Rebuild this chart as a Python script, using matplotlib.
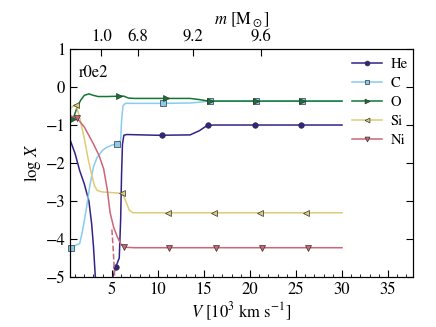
import matplotlib
matplotlib.use("Agg")
import matplotlib.pyplot as plt
from matplotlib.ticker import MultipleLocator

plt.rcParams['font.family'] = ['STIXGeneral', 'DejaVu Serif']
plt.rcParams['mathtext.fontset'] = 'stix'

# velocity [10^3 km/s] and log mass fraction
he_v1 = [0.47, 1.0, 1.5, 2.0, 2.5, 2.8, 3.0, 3.2]
he_x1 = [-1.4, -1.75, -2.2, -2.55, -3.0, -3.6, -4.2, -5.0]
he_v2 = [5.1, 5.4, 5.8, 5.95, 6.05, 6.15, 6.3, 6.6, 10.0, 13.5, 14.5, 15.3, 16.0, 30.0]
he_x2 = [-5.0, -4.75, -4.5, -3.5, -2.3, -1.5, -1.27, -1.25, -1.27, -1.26, -1.15, -1.02, -1.0, -1.0]
he_mv = [5.4, 10.4, 15.4, 20.5, 25.5]
he_mx = [-4.75, -1.27, -1.0, -1.0, -1.0]

c_v = [0.47, 1.0, 1.5, 1.8, 2.2, 2.6, 3.0, 3.4, 4.0, 4.5, 5.0, 5.6, 5.95, 6.05, 6.2, 6.45, 10.0, 13.5, 14.5, 15.5, 30.0]
c_x = [-4.25, -4.17, -4.12, -3.8, -3.24, -2.6, -2.1, -1.85, -1.66, -1.58, -1.53, -1.49, -1.4, -0.9, -0.5, -0.43, -0.43, -0.42, -0.4, -0.37, -0.37]
c_mv = [0.55, 5.6, 10.6, 15.65, 20.7, 25.7]
c_mx = [-4.25, -1.49, -0.43, -0.37, -0.37, -0.37]

o_v = [0.47, 0.8, 1.2, 1.6, 2.0, 2.5, 3.0, 3.5, 4.5, 5.8, 6.3, 6.8, 7.5, 10.0, 13.5, 14.5, 15.5, 30.0]
o_x = [-0.85, -0.83, -0.55, -0.35, -0.22, -0.18, -0.22, -0.25, -0.25, -0.24, -0.24, -0.29, -0.3, -0.3, -0.3, -0.33, -0.37, -0.37]
o_mv = [0.75, 5.8, 10.85, 15.7, 20.7, 25.7]
o_mx = [-0.84, -0.24, -0.3, -0.37, -0.37, -0.37]

si_v = [0.47, 0.8, 1.1, 1.5, 2.0, 2.45, 2.8, 3.1, 3.4, 3.9, 5.0, 6.15, 6.5, 6.9, 7.3, 10.0, 30.0]
si_x = [-0.57, -0.5, -0.46, -0.8, -1.35, -1.93, -2.3, -2.6, -2.72, -2.76, -2.78, -2.8, -3.0, -3.25, -3.31, -3.31, -3.31]
si_mv = [1.05, 6.15, 11.05, 16.1, 21.1, 26.1]
si_mx = [-0.46, -2.8, -3.31, -3.31, -3.31, -3.31]

ni_v = [0.47, 1.2, 2.0, 3.0, 3.6, 4.1, 4.5, 4.8, 5.2, 5.6, 6.0, 6.5, 7.5, 30.0]
ni_x = [-0.75, -0.82, -1.05, -1.5, -1.8, -2.15, -2.7, -3.3, -3.7, -3.95, -4.15, -4.22, -4.23, -4.23]
ni_mv = [1.2, 6.3, 11.2, 16.3, 21.3, 26.3]
ni_mx = [-0.82, -4.22, -4.23, -4.23, -4.23, -4.23]
ni_dash_v = [5.0, 5.15, 5.3]
ni_dash_x = [-3.75, -4.3, -5.0]

m_tick_v = [3.84, 7.83, 13.76, 21.2]
m_tick_labels = ['1.0', '6.8', '9.2', '9.6']

fig = plt.figure(figsize=(4.36, 3.27), dpi=100)
ax = fig.add_axes([0.161, 0.153, 0.786, 0.697])

series = [
    ('He', '#332288', 'o', [(he_v1, he_x1), (he_v2, he_x2)], he_mv, he_mx),
    ('C', '#88CCEE', 's', [(c_v, c_x)], c_mv, c_mx),
    ('O', '#117733', '>', [(o_v, o_x)], o_mv, o_mx),
    ('Si', '#DDCC77', '<', [(si_v, si_x)], si_mv, si_mx),
    ('Ni', '#CC6677', 'v', [(ni_v, ni_x)], ni_mv, ni_mx),
]
for name, col, mk, parts, mv, mx in series:
    for v, x in parts:
        ax.plot(v, x, color=col, lw=1.1)
    ax.plot(mv, mx, ls='none', marker=mk, color=col, ms=4, mew=0.5, mec='0.2', clip_on=False)
    ax.plot([], [], color=col, marker=mk, ms=3.5, mew=0.5, mec='0.2', lw=1.1, label=name)
ax.plot(ni_dash_v, ni_dash_x, color='#CC6677', lw=1.1, ls='--')

ax.set_xlim(0.47, 37.7)
ax.set_ylim(-5, 1)
ax.xaxis.set_major_locator(MultipleLocator(5))
ax.xaxis.set_minor_locator(MultipleLocator(1))
ax.yaxis.set_major_locator(MultipleLocator(1))
ax.tick_params(which='both', direction='in', top=False, right=True, labelsize=12)
ax.tick_params(which='major', length=5)
ax.tick_params(which='minor', length=2.5)
ax.set_xlabel(r'$V$ [10$^3$ km s$^{-1}$]', fontsize=12, labelpad=2)
ax.set_ylabel(r'log $X$', fontsize=12, labelpad=2)
ax.text(0.025, 0.93, 'r0e2', transform=ax.transAxes, fontsize=12, va='top')

ax2 = ax.twiny()
ax2.set_xlim(ax.get_xlim())
ax2.set_xticks(m_tick_v)
ax2.set_xticklabels(m_tick_labels)
ax2.tick_params(direction='in', length=5, labelsize=12, pad=3)
ax2.set_xlabel(r'$m$ [M$_\odot$]', fontsize=12, labelpad=4)

ax.legend(loc='upper right', frameon=False, fontsize=10.5, numpoints=1,
          handlelength=2.0, handletextpad=0.62, labelspacing=0.38,
          borderaxespad=0, borderpad=0, bbox_to_anchor=(0.985, 0.962))

fig.savefig('out.png', dpi=100)
